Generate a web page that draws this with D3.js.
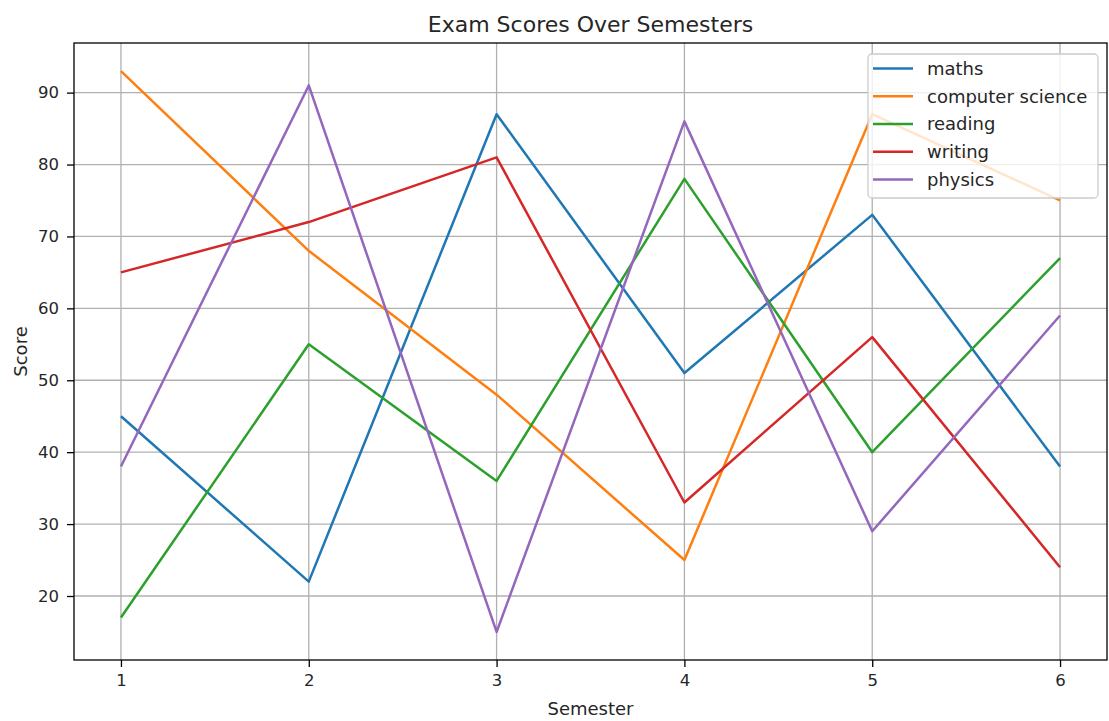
<!DOCTYPE html>
<html lang="en">
<head>
    <meta charset="UTF-8">
    <title>Exam Scores Over Semesters</title>
    <script src="https://d3js.org/d3.v7.min.js"></script>
    <style>
        body { margin: 0; background: #fff; font-family: "DejaVu Sans", sans-serif; }
        svg text { fill: #262626; font-family: "DejaVu Sans", sans-serif; }
    </style>
</head>
<body>
    <div id="chart"></div>
    <script>
        const semesters = [1, 2, 3, 4, 5, 6];
        const subjects = ["maths", "computer science", "reading", "writing", "physics"];
        const maths = [45, 22, 87, 51, 73, 38];
        const computerScience = [93, 68, 48, 25, 87, 75];
        const reading = [17, 55, 36, 78, 40, 67];
        const writing = [65, 72, 81, 33, 56, 24];
        const physics = [38, 91, 15, 86, 29, 59];
        const yTicks = [20, 30, 40, 50, 60, 70, 80, 90];
        const colors = ["#1f77b4", "#ff7f0e", "#2ca02c", "#d62728", "#9467bd"];

        const series = [maths, computerScience, reading, writing, physics]
            .map((vals, i) => ({ name: subjects[i], color: colors[i], values: vals }));

        const width = 1109, height = 721;
        const margin = { top: 43, right: 2, bottom: 61, left: 74 };
        const plotW = width - margin.left - margin.right;
        const plotH = height - margin.top - margin.bottom;

        const svg = d3.select("#chart").append("svg")
            .attr("width", width).attr("height", height);
        const g = svg.append("g").attr("transform", `translate(${margin.left},${margin.top})`);

        const x = d3.scaleLinear().domain([0.75, 6.25]).range([0, plotW]);
        const y = d3.scaleLinear().domain([11.1, 96.9]).range([plotH, 0]);

        // grid
        g.append("g").selectAll("line").data(semesters).join("line")
            .attr("x1", d => x(d)).attr("x2", d => x(d))
            .attr("y1", 0).attr("y2", plotH)
            .attr("stroke", "#b0b0b0").attr("stroke-width", 1.3);
        g.append("g").selectAll("line").data(yTicks).join("line")
            .attr("x1", 0).attr("x2", plotW)
            .attr("y1", d => y(d)).attr("y2", d => y(d))
            .attr("stroke", "#b0b0b0").attr("stroke-width", 1.3);

        // axes
        const xAxis = g.append("g").attr("transform", `translate(0,${plotH})`)
            .call(d3.axisBottom(x).tickValues(semesters).tickFormat(d3.format("d"))
                .tickSize(7).tickPadding(7));
        const yAxis = g.append("g")
            .call(d3.axisLeft(y).tickValues(yTicks).tickFormat(d3.format("d"))
                .tickSize(7).tickPadding(8));
        [xAxis, yAxis].forEach(a => {
            a.select(".domain").remove();
            a.selectAll("line").attr("stroke", "#000").attr("stroke-width", 1.3);
            a.selectAll("text").style("font-size", "16.5px")
                .style("font-family", "DejaVu Sans, sans-serif").attr("fill", "#262626");
        });

        // lines
        const line = d3.line().x((d, i) => x(semesters[i])).y(d => y(d));
        g.append("g").selectAll("path").data(series).join("path")
            .attr("d", d => line(d.values))
            .attr("fill", "none")
            .attr("stroke", d => d.color)
            .attr("stroke-width", 2.5)
            .attr("stroke-linejoin", "round");

        // frame
        g.append("rect").attr("width", plotW).attr("height", plotH)
            .attr("fill", "none").attr("stroke", "#000").attr("stroke-width", 1.3);

        // titles
        svg.append("text").attr("x", margin.left + plotW / 2).attr("y", 32)
            .attr("text-anchor", "middle").style("font-size", "22px")
            .text("Exam Scores Over Semesters");
        svg.append("text").attr("x", margin.left + plotW / 2).attr("y", 715)
            .attr("text-anchor", "middle").style("font-size", "18px")
            .text("Semester");
        svg.append("text")
            .attr("transform", `translate(27,${margin.top + plotH / 2}) rotate(-90)`)
            .attr("text-anchor", "middle").style("font-size", "18px")
            .text("Score");

        // legend
        const lg = svg.append("g").attr("transform", "translate(868,54)");
        lg.append("rect").attr("width", 230).attr("height", 144).attr("rx", 4)
            .attr("fill", "#fff").attr("fill-opacity", 0.8)
            .attr("stroke", "#cccccc").attr("stroke-width", 1.3);
        const items = lg.selectAll("g.item").data(series).join("g")
            .attr("class", "item")
            .attr("transform", (d, i) => `translate(0,${14.5 + i * 27.75})`);
        items.append("line").attr("x1", 5).attr("x2", 45)
            .attr("stroke", d => d.color).attr("stroke-width", 2.5);
        items.append("text").attr("x", 59).attr("dy", "0.35em")
            .style("font-size", "18px").text(d => d.name);
    </script>
</body>
</html>
